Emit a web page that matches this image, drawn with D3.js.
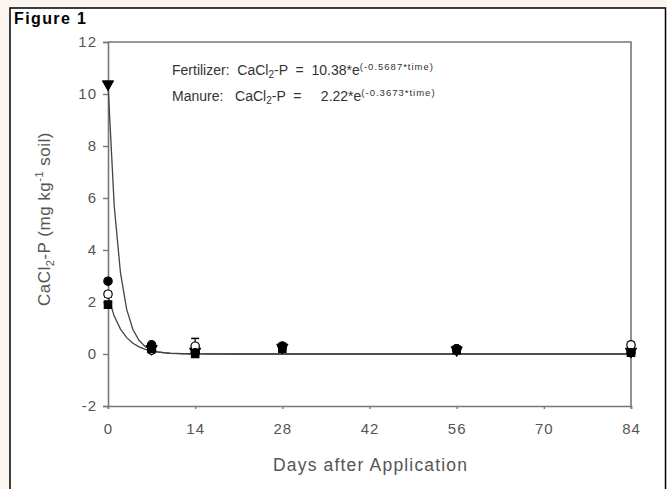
<!DOCTYPE html>
<html><head><meta charset="utf-8">
<script src="https://cdn.jsdelivr.net/npm/d3@7"></script>
<style>
html,body{margin:0;padding:0;background:#faf6ef;}
svg{display:block;font-family:"Liberation Sans",Arial,sans-serif;}
</style></head>
<body>
<script>
// ---- data ----
const days = [0, 7, 14, 28, 56, 84];
const xTicks = [0, 14, 28, 42, 56, 70, 84];
const yTicks = [-2, 0, 2, 4, 6, 8, 10, 12];
const fertilizer = [10.38, 0.2, 0.1, 0.25, 0.15, 0.1];   // filled triangle
const manureA = [2.8, 0.35, 0.05, 0.3, 0.2, 0.05];      // filled circle
const manureB = [2.3, 0.15, 0.3, 0.3, 0.2, 0.35];       // open circle
const manureC = [1.9, 0.2, 0.0, 0.2, 0.15, 0.05];       // filled square
const errB = [0.1, 0.1, 0.3, 0.1, 0.1, 0.1];
const fitFert = {a: 10.38, k: 0.6};
const fitMan = {a: 2.22, k: 0.42};
const fitDays = d3.range(0, 85, 1);

const W = 667, H = 489;
const svg = d3.select("body").append("svg").attr("width", W).attr("height", H);
svg.append("rect").attr("x", 10).attr("y", 8).attr("width", 655.5).attr("height", 490)
  .attr("fill", "#fff").attr("stroke", "#000").attr("stroke-width", 1.5);
svg.append("text").attr("x", 14).attr("y", 24).attr("font-size", 16).attr("font-weight", "bold")
  .attr("fill", "#000").attr("textLength", 72).attr("lengthAdjust", "spacing").text("Figure 1");

const x = d3.scaleLinear().domain([0, 84]).range([108, 631]);
const y = d3.scaleLinear().domain([-2, 12]).range([406, 42]);
const axisColor = "#777", textColor = "#555";

svg.append("path").attr("d", `M${x(0)},${y(12)}H${x(84)}V${y(-2)}`)
  .attr("fill", "none").attr("stroke", axisColor).attr("stroke-width", 1.6);

const gy = svg.append("g").attr("transform", `translate(${x(0)},0)`)
  .call(d3.axisLeft(y).tickValues(yTicks).tickSize(5).tickPadding(6).tickFormat(d => String(d)));
const gx = svg.append("g").attr("transform", `translate(0,${y(-2)})`)
  .call(d3.axisBottom(x).tickValues(xTicks).tickSize(3).tickPadding(14).tickFormat(d => String(d)));
[gx, gy].forEach(g => {
  g.select(".domain").attr("stroke", axisColor).attr("stroke-width", 1.6);
  g.selectAll(".tick line").attr("stroke", axisColor).attr("stroke-width", 1.4);
  g.selectAll(".tick text").attr("fill", textColor).attr("font-size", 15)
    .attr("letter-spacing", 1)
    .attr("font-family", "'Liberation Sans',Arial,sans-serif");
});

// axis titles
svg.append("text").attr("x", 370).attr("y", 471).attr("text-anchor", "middle")
  .attr("font-size", 17.5).attr("fill", textColor)
  .attr("textLength", 194).attr("lengthAdjust", "spacing").text("Days after Application");
const yl = svg.append("text").attr("transform", "translate(50,219) rotate(-90)")
  .attr("text-anchor", "middle").attr("font-size", 17).attr("fill", textColor)
  .attr("letter-spacing", 0.5);
yl.append("tspan").text("CaCl");
yl.append("tspan").attr("font-size", 11).attr("dy", 4).text("2");
yl.append("tspan").attr("dy", -4).text("-P (mg kg");
yl.append("tspan").attr("font-size", 11).attr("dy", -7).text("-1");
yl.append("tspan").attr("dy", 7).text(" soil)");

// fitted curves
const line = d3.line().x(d => x(d[0])).y(d => y(d[1]));
[fitFert, fitMan].forEach(f => {
  svg.append("path").datum(fitDays.map(t => [t, f.a * Math.exp(-f.k * t)]))
    .attr("d", line).attr("fill", "none").attr("stroke", "#444").attr("stroke-width", 1.3);
});

// error bars
const eb = svg.append("g");
days.forEach((d, i) => {
  eb.append("line").attr("x1", x(d)).attr("x2", x(d))
    .attr("y1", y(manureB[i] + errB[i])).attr("y2", y(manureB[i] - errB[i]))
    .attr("stroke", "#000").attr("stroke-width", 1.2);
  [1, -1].forEach(s => eb.append("line").attr("x1", x(d) - 4).attr("x2", x(d) + 4)
    .attr("y1", y(manureB[i] + s * errB[i])).attr("y2", y(manureB[i] + s * errB[i]))
    .attr("stroke", "#000").attr("stroke-width", 1.5));
});

svg.append("g").selectAll("path").data(days.map((d, i) => [d, fertilizer[i]])).join("path")
  .attr("transform", d => `translate(${x(d[0])},${y(d[1])}) rotate(180)`)
  .attr("d", d3.symbol().type(d3.symbolTriangle).size(55))
  .attr("fill", "#000").attr("stroke", "#000");
function points(vals, type, fill) {
  svg.append("g").selectAll("path").data(days.map((d, i) => [d, vals[i]])).join("path")
    .attr("transform", d => `translate(${x(d[0])},${y(d[1])})`)
    .attr("d", d3.symbol().type(type).size(55))
    .attr("fill", fill).attr("stroke", "#000").attr("stroke-width", 1.2);
}
points(manureB, d3.symbolCircle, "#fff");
points(manureA, d3.symbolCircle, "#000");
points(manureC, d3.symbolSquare, "#000");

// equations
function eq(yy, label, pad, coef, expo) {
  const t = svg.append("text").attr("x", 172).attr("y", yy).attr("font-size", 14).attr("fill", "#333")
    .attr("xml:space", "preserve");
  t.append("tspan").text(label + "CaCl");
  t.append("tspan").attr("font-size", 10).attr("dy", 3).text("2");
  t.append("tspan").attr("dy", -3).text("-P  =  " + pad + coef + "*e");
  t.append("tspan").attr("font-size", 9.5).attr("dy", -5).attr("letter-spacing", 1).text(expo);
}
eq(75, "Fertilizer:  ", "", "10.38", "(-0.5687*time)");
eq(101, "Manure:   ", "   ", "2.22", "(-0.3673*time)");
</script>
</body></html>
